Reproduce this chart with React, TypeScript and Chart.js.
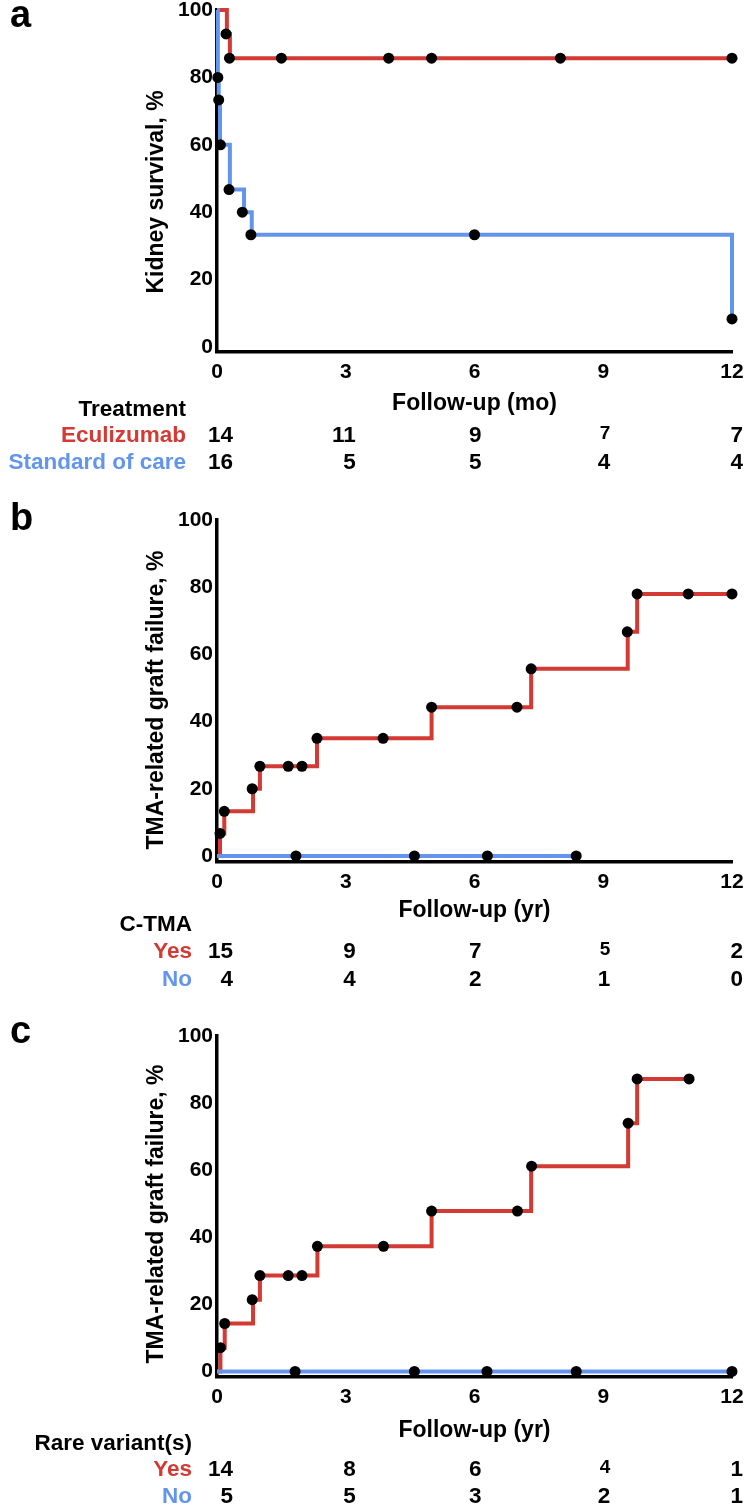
import React, { useEffect, useRef } from 'react';
import { Chart, registerables } from 'chart.js';

Chart.register(...registerables);

const RED = '#D23A33';
const BLUE = '#6495ED';
const FONT = '"Liberation Sans", Arial, Helvetica, sans-serif';

// ---------- shared ----------
const xTickValues = [0, 3, 6, 9, 12];
const yTickValues = [0, 20, 40, 60, 80, 100];

// ---------- panel a: kidney survival (months) ----------
const aEcuTime = [0, 0.23, 0.3, 12];
const aEcuSurv = [100, 92.9, 85.7, 85.7];
const aEcuDotTime = [0.21, 0.29, 1.5, 4, 5, 8, 12];
const aEcuDotSurv = [92.9, 85.7, 85.7, 85.7, 85.7, 85.7, 85.7];
const aSocTime = [0, 0.02, 0.04, 0.07, 0.3, 0.63, 0.81, 12];
const aSocSurv = [100, 80, 73.3, 60, 46.7, 40, 33.3, 8.3];
const aSocDotTime = [0.02, 0.04, 0.08, 0.28, 0.59, 0.79, 6, 12];
const aSocDotSurv = [80, 73.3, 60, 46.7, 40, 33.3, 33.3, 8.3];
const aRiskEcu = [14, 11, 9, 7, 7];
const aRiskSoc = [16, 5, 5, 4, 4];

// ---------- panel b: TMA-related graft failure by C-TMA (years) ----------
const bYesTime = [0, 0.07, 0.17, 0.84, 1.0, 2.33, 5.0, 7.32, 9.57, 9.79, 12];
const bYesInc = [0, 6.7, 13.3, 20, 26.7, 35, 44.3, 55.7, 66.7, 78, 78];
const bYesDotTime = [0.07, 0.17, 0.82, 1.0, 1.66, 1.98, 2.33, 3.87, 5.0, 6.99, 7.32, 9.56, 9.79, 10.98, 12];
const bYesDotInc = [6.7, 13.3, 20, 26.7, 26.7, 26.7, 35, 35, 44.3, 44.3, 55.7, 66.7, 78, 78, 78];
const bNoTime = [0, 8.37];
const bNoInc = [0, 0];
const bNoDotTime = [1.84, 4.6, 6.3, 8.37];
const bNoDotInc = [0, 0, 0, 0];
const bRiskYes = [15, 9, 7, 5, 2];
const bRiskNo = [4, 4, 2, 1, 0];

// ---------- panel c: TMA-related graft failure by rare variant(s) (years) ----------
const cYesTime = [0, 0.08, 0.18, 0.84, 1.0, 2.34, 5.0, 7.32, 9.58, 9.79, 11.0];
const cYesInc = [0, 7.1, 14.3, 21.4, 28.6, 37.3, 47.8, 61.2, 74, 87.2, 87.2];
const cYesDotTime = [0.08, 0.18, 0.82, 1.0, 1.66, 1.98, 2.34, 3.88, 5.0, 7.0, 7.33, 9.58, 9.79, 11.0];
const cYesDotInc = [7.1, 14.3, 21.4, 28.6, 28.6, 28.6, 37.3, 37.3, 47.8, 47.8, 61.2, 74, 87.2, 87.2];
const cNoTime = [0, 12];
const cNoInc = [0, 0];
const cNoDotTime = [1.82, 4.6, 6.29, 8.37, 12];
const cNoDotInc = [0, 0, 0, 0, 0];
const cRiskYes = [14, 8, 6, 4, 1];
const cRiskNo = [5, 5, 3, 2, 1];

const pts = (t: number[], v: number[]) => t.map((x, i) => ({ x, y: v[i] }));

const textPlugin = {
  id: 'panelText',
  afterDraw(chart: any, _args: any, o: any) {
    const ctx = chart.ctx;
    const xs = chart.scales.x;
    const area = chart.chartArea;
    ctx.save();
    ctx.fillStyle = '#000';
    // panel letter
    ctx.font = `bold 38px ${FONT}`;
    ctx.textAlign = 'left';
    ctx.textBaseline = 'alphabetic';
    ctx.fillText(o.letter, 10, o.letterY);
    // y title (rotated)
    ctx.save();
    ctx.translate(163, o.yTitleY);
    ctx.rotate(-Math.PI / 2);
    ctx.font = `bold 23px ${FONT}`;
    ctx.textAlign = 'center';
    ctx.fillText(o.yTitle, 0, 0);
    ctx.restore();
    // x title
    ctx.font = `bold 23px ${FONT}`;
    ctx.textAlign = 'center';
    ctx.textBaseline = 'middle';
    ctx.fillText(o.xTitle, (area.left + area.right) / 2, o.xTitleY);
    // risk table
    ctx.font = `bold 22.5px ${FONT}`;
    ctx.textAlign = 'right';
    ctx.fillText(o.header, o.labelRight, o.headerY);
    const offs = [16, 10, 7, 7, 11];
    o.rows.forEach((row: any, ri: number) => {
      ctx.fillStyle = row.color;
      ctx.font = `bold 22.5px ${FONT}`;
      ctx.textAlign = 'right';
      ctx.fillText(row.label, o.labelRight, row.y);
      ctx.fillStyle = '#000';
      row.values.forEach((v: number, ci: number) => {
        const raised = ri === 0 && ci === 3;
        ctx.font = raised ? `bold 19px ${FONT}` : `bold 22.5px ${FONT}`;
        ctx.fillText(String(v), xs.getPixelForValue(xTickValues[ci]) + offs[ci], row.y - (raised ? 2.5 : 0));
      });
    });
    ctx.restore();
  },
};

function makeConfig(p: any) {
  const tickFont = { family: FONT, size: 21, weight: 'bold' as const };
  return {
    type: 'line' as const,
    data: {
      datasets: [
        {
          data: p.dots,
          showLine: false,
          pointRadius: 5.5,
          pointBackgroundColor: '#000',
          pointBorderWidth: 0,
          order: 0,
          clip: false,
        },
        {
          data: p.blue,
          borderColor: BLUE,
          borderWidth: 4,
          stepped: 'before',
          pointRadius: 0,
          fill: false,
          borderCapStyle: 'butt',
          borderJoinStyle: 'miter',
          order: 1,
          clip: false,
        },
        {
          data: p.red,
          borderColor: RED,
          borderWidth: 4,
          stepped: 'before',
          pointRadius: 0,
          fill: false,
          borderCapStyle: 'butt',
          borderJoinStyle: 'miter',
          order: 2,
          clip: false,
        },
      ],
    },
    plugins: [textPlugin],
    options: {
      responsive: false,
      animation: false,
      events: [],
      layout: { padding: { top: p.padTop, bottom: p.padBottom, left: 0, right: 15 } },
      plugins: {
        legend: { display: false },
        tooltip: { enabled: false },
        panelText: p.text,
      },
      scales: {
        x: {
          type: 'linear',
          min: 0,
          max: 12,
          afterBuildTicks: (s: any) => {
            s.ticks = xTickValues.map((v) => ({ value: v }));
          },
          ticks: { font: tickFont, color: '#000', padding: 8, maxRotation: 0 },
          grid: { display: false, drawTicks: false },
          border: { display: true, color: '#000', width: 3.5 },
          afterFit: (s: any) => {
            s.height = 30;
            s.paddingLeft = 0;
            s.paddingRight = 0;
          },
        },
        y: {
          type: 'linear',
          min: p.yMin,
          max: 100,
          afterBuildTicks: (s: any) => {
            s.ticks = yTickValues.map((v) => ({ value: v }));
          },
          ticks: { font: tickFont, color: '#000', padding: 4 },
          grid: { display: false, drawTicks: false },
          border: { display: true, color: '#000', width: 3.5 },
          afterFit: (s: any) => {
            s.width = 217;
            s.paddingTop = 0;
            s.paddingBottom = 0;
          },
        },
      },
    },
  };
}

const panels = [
  {
    top: -5,
    height: 485,
    padTop: 15,
    padBottom: 98,
    yMin: -1.5,
    red: pts(aEcuTime, aEcuSurv),
    blue: pts(aSocTime, aSocSurv),
    dots: [...pts(aEcuDotTime, aEcuDotSurv), ...pts(aSocDotTime, aSocDotSurv)],
    text: {
      letter: 'a',
      letterY: 32,
      yTitle: 'Kidney survival, %',
      yTitleY: 197,
      xTitle: 'Follow-up (mo)',
      xTitleY: 409,
      header: 'Treatment',
      headerY: 415,
      labelRight: 186,
      rows: [
        { label: 'Eculizumab', color: RED, y: 441, values: aRiskEcu },
        { label: 'Standard of care', color: BLUE, y: 468, values: aRiskSoc },
      ],
    },
  },
  {
    top: 480,
    height: 510,
    padTop: 40,
    padBottom: 98,
    yMin: -1.8,
    red: pts(bYesTime, bYesInc),
    blue: pts(bNoTime, bNoInc),
    dots: [...pts(bYesDotTime, bYesDotInc), ...pts(bNoDotTime, bNoDotInc)],
    text: {
      letter: 'b',
      letterY: 50,
      yTitle: 'TMA-related graft failure, %',
      yTitleY: 220,
      xTitle: 'Follow-up (yr)',
      xTitleY: 431,
      header: 'C-TMA',
      headerY: 445,
      labelRight: 192,
      rows: [
        { label: 'Yes', color: RED, y: 472, values: bRiskYes },
        { label: 'No', color: BLUE, y: 500, values: bRiskNo },
      ],
    },
  },
  {
    top: 990,
    height: 517,
    padTop: 46,
    padBottom: 100.5,
    yMin: -1.5,
    red: pts(cYesTime, cYesInc),
    blue: pts(cNoTime, cNoInc),
    dots: [...pts(cYesDotTime, cYesDotInc), ...pts(cNoDotTime, cNoDotInc)],
    text: {
      letter: 'c',
      letterY: 53,
      yTitle: 'TMA-related graft failure, %',
      yTitleY: 224,
      xTitle: 'Follow-up (yr)',
      xTitleY: 441,
      header: 'Rare variant(s)',
      headerY: 454,
      labelRight: 192,
      rows: [
        { label: 'Yes', color: RED, y: 480, values: cRiskYes },
        { label: 'No', color: BLUE, y: 507, values: cRiskNo },
      ],
    },
  },
];

function Panel({ p }: { p: any }) {
  const ref = useRef<HTMLCanvasElement | null>(null);
  useEffect(() => {
    if (!ref.current) return;
    const chart = new Chart(ref.current, makeConfig(p) as any);
    return () => chart.destroy();
  }, [p]);
  return (
    <canvas
      ref={ref}
      width={747}
      height={p.height}
      style={{ position: 'absolute', left: 0, top: p.top, width: 747, height: p.height }}
    />
  );
}

export default function App() {
  return (
    <div>
      {panels.map((p, i) => (
        <Panel key={i} p={p} />
      ))}
    </div>
  );
}
